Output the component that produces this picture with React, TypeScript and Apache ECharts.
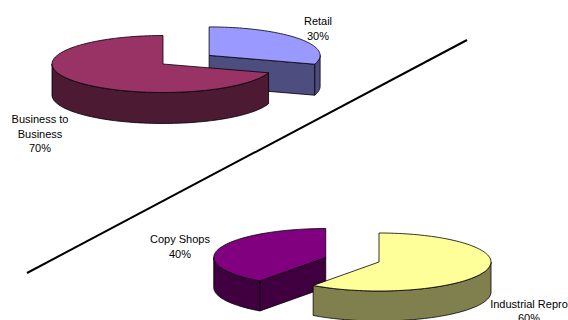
import React, { useEffect, useRef } from "react";
import * as echarts from "echarts";

// ---- data ----
const topCategories = ["Retail", "Business to Business"];
const topLabelText = ["Retail", "Business to\nBusiness"];
const topValues = [30, 70];

const bottomCategories = ["Industrial Repro", "Copy Shops"];
const bottomLabelText = ["Industrial Repro", "Copy Shops"];
const bottomValues = [60, 40];

// ---- layout / style ----
const TOP_LAYOUT = {
  cx: 163, cy: 64, rx: 111, ry: 28.5, depth: 31,
  explode: [57, 0],
  topColors: ["#9999FF", "#993366"],
  sideColors: ["#4D4D80", "#4D1A33"],
  labelPos: [[318, 28.5], [40, 133.5]],
};
const BOTTOM_LAYOUT = {
  cx: 379, cy: 262, rx: 112, ry: 29, depth: 30,
  explode: [0, 56],
  topColors: ["#FFFF99", "#800080"],
  sideColors: ["#80804F", "#400040"],
  labelPos: [[529, 311], [180, 246.5]],
};

const RAD = Math.PI / 180;

function makeRenderItem(values: number[], labels: string[], L: any) {
  const total = values.reduce((a, b) => a + b, 0);
  return (params: any, api: any) => {
    const i = params.dataIndex;
    const v = api.value(0);
    let before = 0;
    for (let k = 0; k < i; k++) before += values[k];
    const a0 = (before / total) * 360;
    const a1 = ((before + v) / total) * 360;
    const mid = (a0 + a1) / 2;
    const d = L.explode[i];
    const cx = L.cx + d * Math.sin(mid * RAD);
    const cy = L.cy - (L.ry / L.rx) * d * Math.cos(mid * RAD);
    const P = (deg: number, dy = 0) => [
      cx + L.rx * Math.sin(deg * RAD),
      cy - L.ry * Math.cos(deg * RAD) + dy,
    ];
    const arc = (s: number, e: number, dy = 0) => {
      const pts: number[][] = [];
      const n = Math.max(2, Math.ceil((e - s) / 2));
      for (let k = 0; k <= n; k++) pts.push(P(s + ((e - s) * k) / n, dy));
      return pts;
    };
    const stroke = { stroke: "#000", lineWidth: 0.8, lineJoin: "round" };
    const zBase = Math.round(cy * 10);
    const children: any[] = [];
    // outer wall
    const ws = Math.max(a0, 90);
    const we = Math.min(a1, 270);
    if (we > ws) {
      const pts = arc(ws, we).concat(arc(ws, we, L.depth).reverse());
      children.push({
        type: "polygon", z2: zBase,
        shape: { points: pts },
        style: { fill: L.sideColors[i], ...stroke },
      });
    }
    // cut faces
    const face = (deg: number) => {
      const p = P(deg);
      return [[cx, cy], p, [p[0], p[1] + L.depth], [cx, cy + L.depth]];
    };
    if (Math.sin(a0 * RAD) < -0.01) {
      children.push({
        type: "polygon", z2: zBase + 1,
        shape: { points: face(a0) },
        style: { fill: L.sideColors[i], ...stroke },
      });
    }
    if (Math.sin(a1 * RAD) > 0.01) {
      children.push({
        type: "polygon", z2: zBase + 1,
        shape: { points: face(a1) },
        style: { fill: L.sideColors[i], ...stroke },
      });
    }
    // top face
    children.push({
      type: "polygon", z2: zBase + 5,
      shape: { points: [[cx, cy]].concat(arc(a0, a1)) },
      style: { fill: L.topColors[i], ...stroke },
    });
    // label
    const pct = Math.round((v / total) * 100);
    children.push({
      type: "text", z2: 10000,
      x: L.labelPos[i][0], y: L.labelPos[i][1],
      style: {
        text: labels[i] + "\n" + pct + "%",
        align: "center", verticalAlign: "middle",
        fontFamily: '"Liberation Sans", Arial, sans-serif',
        fontSize: 11, lineHeight: 14.5, fill: "#000",
      },
    });
    return { type: "group", children };
  };
}

export default function App() {
  const ref = useRef<HTMLDivElement>(null);
  useEffect(() => {
    if (!ref.current) return;
    const chart = echarts.init(ref.current, null, { renderer: "svg" });
    chart.setOption({
      animation: false,
      backgroundColor: "#fff",
      series: [
        {
          type: "custom", name: "Top", coordinateSystem: "none", silent: true,
          data: topValues.map((v, i) => ({ name: topCategories[i], value: [v] })),
          renderItem: makeRenderItem(topValues, topLabelText, TOP_LAYOUT),
        },
        {
          type: "custom", name: "Bottom", coordinateSystem: "none", silent: true,
          data: bottomValues.map((v, i) => ({ name: bottomCategories[i], value: [v] })),
          renderItem: makeRenderItem(bottomValues, bottomLabelText, BOTTOM_LAYOUT),
        },
      ],
      graphic: [
        {
          type: "line", z: 0,
          shape: { x1: 27, y1: 273, x2: 467, y2: 40 },
          style: { stroke: "#000", lineWidth: 2 },
        },
      ],
    });
    return () => chart.dispose();
  }, []);
  return (
    <div
      ref={ref}
      style={{ position: "fixed", left: 0, top: 0, width: 568, height: 320 }}
    />
  );
}
